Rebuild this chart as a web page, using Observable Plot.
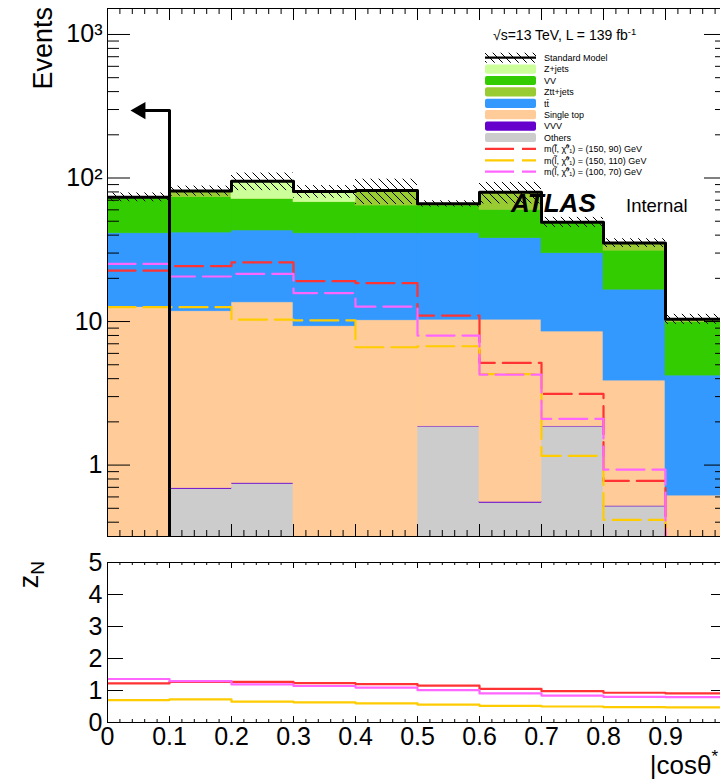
<!DOCTYPE html>
<html><head><meta charset="utf-8">
<script src="https://cdn.jsdelivr.net/npm/d3@7"></script>
<script src="https://cdn.jsdelivr.net/npm/@observablehq/plot@0.6"></script>
<style>
html,body{margin:0;padding:0;overflow:hidden;background:#fff;width:720px;height:782px;}
#wrap{position:relative;width:720px;height:782px;overflow:hidden;}
#main{position:absolute;left:0;top:0;width:740px;}
#ratio{position:absolute;left:0;top:545px;width:740px;}
#wrap svg{max-width:none !important;display:block;}
</style></head>
<body><div id="wrap"><div id="main"></div><div id="ratio"></div></div>
<script>
// ---------------- data ----------------
const binEdges  = [0, 0.1, 0.2, 0.3, 0.4, 0.5, 0.6, 0.7, 0.8, 0.9, 1.0];
const others    = [0, 0.68, 0.74, 0, 0, 1.85, 0.545, 1.85, 0.514, 0];
const vvv       = [0, 0.01, 0.01, 0, 0, 0.01, 0.01, 0.01, 0.005, 0];
const singleTop = [12.6, 11.1, 12.85, 9.27, 10.2, 8.44, 9.75, 6.66, 3.36, 0.613];
const ttbar     = [28.6, 29.9, 29.5, 31.9, 31.0, 30.9, 27.8, 21.4, 12.8, 3.59];
const vv        = [31.0, 31.8, 28.1, 26.6, 23.1, 23.1, 21.9, 18.5, 14.5, 5.69];
const zttJets   = [0.8, 7.5, 0.5, 0.3, 17.5, 1.0, 19.6, 0.5, 4.1, 0.3];
const zJets     = [0.5, 0.3, 23.3, 12.4, 0, 0.8, 0, 0.3, 0, 0.2];
const smRelUnc  = [0.07, 0.08, 0.14, 0.10, 0.20, 0.05, 0.17, 0.08, 0.07, 0.08];

const sig150_90  = [22.6, 24.3, 25.8, 19.1, 18.5, 11.0, 5.15, 3.13, 0.776, 0.2];
const sig150_110 = [12.6, 12.6, 10.3, 10.2, 6.62, 6.73, 4.3, 1.16, 0.415, 0.2];
const sig100_70  = [25.2, 20.6, 21.5, 15.8, 12.7, 7.99, 4.27, 2.10, 0.93, 0.2];

const zn150_90  = [1.22, 1.27, 1.27, 1.23, 1.20, 1.15, 1.05, 0.98, 0.93, 0.91];
const zn150_110 = [0.70, 0.72, 0.65, 0.63, 0.60, 0.56, 0.52, 0.50, 0.48, 0.47];
const zn100_70  = [1.36, 1.29, 1.19, 1.14, 1.09, 1.01, 0.91, 0.84, 0.80, 0.79];

const arrowCut = 0.1, arrowTop = 295, arrowTipX = 0.037;

const mainYTicks  = [1, 10, 100, 1000];
const mainYLabels = ["1", "10", "10\u00B2", "10\u00B3"];
const ratioYTicks = [0, 1, 2, 3, 4, 5];
const xTicks      = [0, 0.1, 0.2, 0.3, 0.4, 0.5, 0.6, 0.7, 0.8, 0.9, 1];
const xTickLabels = ["0", "0.1", "0.2", "0.3", "0.4", "0.5", "0.6", "0.7", "0.8", "0.9", ""];

const stackNames  = ["Others", "VVV", "Single top", "tt\u0304", "VV", "Ztt+jets", "Z+jets"];
const stackColors = ["#cccccc", "#6600cc", "#ffcc99", "#3399ff", "#33cc00", "#99cc33", "#ccff99"];
const sigLabels   = ["m(l\u0303, \u03C7\u0303\u2070\u2081) = (150, 90) GeV",
                     "m(l\u0303, \u03C7\u0303\u2070\u2081) = (150, 110) GeV",
                     "m(l\u0303, \u03C7\u0303\u2070\u2081) = (100, 70) GeV"];
const sigColors   = ["#ff3333", "#ffcc00", "#ff66ff"];

// ---------------- geometry / style ----------------
const FONT = "'Liberation Sans', Arial, Helvetica, sans-serif";
const W = 740, mL = 107, mR = 13;
const plotW = W - mL - mR;
const H1 = 545, mT1 = 8, mB1 = 9;
const H2 = 237, mT2 = 17, mB2 = 60;
const yMainDomain = [0.318, 1517];
const FLOOR = 1e-3;

// ---------------- derived tables ----------------
const stack = [others, vvv, singleTop, ttbar, vv, zttJets, zJets];
const layers = stack.map(() => []);
const total = [];
for (let i = 0; i < binEdges.length - 1; i++) {
  let c = 0;
  stack.forEach((s, k) => {
    const lo = c; c += s[i];
    if (s[i] > 0) layers[k].push({x1: binEdges[i], x2: binEdges[i + 1], y1: Math.max(lo, FLOOR), y2: c});
  });
  total.push(c);
}
const uncRects = total.map((t, i) => ({x1: binEdges[i], x2: binEdges[i + 1], y1: t * (1 - smRelUnc[i]), y2: t * (1 + smRelUnc[i])}));
function steps(vals) {
  const pts = [];
  vals.forEach((v, i) => { pts.push({x: binEdges[i], y: v}); pts.push({x: binEdges[i + 1], y: v}); });
  return pts;
}
const minorY = [];
for (let e = -1; e <= 3; e++) for (let k = 2; k <= 9; k++) {
  const v = k * Math.pow(10, e);
  if (v > yMainDomain[0] && v < yMainDomain[1]) minorY.push(v);
}
const minorX = d3.range(0, 51).map(i => i / 50).filter(v => Math.round(v * 50) % 5 !== 0);
const yLabelMap = new Map(mainYTicks.map((t, i) => [t, mainYLabels[i]]));
const xLabelMap = new Map(xTicks.map((t, i) => [t, xTickLabels[i]]));

function yTicks(vals, len) {
  return [Plot.tickY(vals, {y: d => d, insetRight: plotW - len, stroke: "black", strokeWidth: 1}),
          Plot.tickY(vals, {y: d => d, insetLeft: plotW - len, stroke: "black", strokeWidth: 1})];
}
function xTicksMarks(vals, lenBottom, lenTop, plotH) {
  return [Plot.tickX(vals, {x: d => d, insetTop: plotH - lenBottom, stroke: "black", strokeWidth: 1}),
          Plot.tickX(vals, {x: d => d, insetBottom: plotH - lenTop, stroke: "black", strokeWidth: 1})];
}

// ---------------- main panel ----------------
const plotH1 = H1 - mT1 - mB1;
const sigMarks = [sig150_90, sig150_110, sig100_70].map((s, i) =>
  Plot.line(steps(s), {x: "x", y: "y", stroke: sigColors[i], strokeWidth: 2.2, strokeDasharray: "28,8", clip: true}));

const arrowPx = 10;
const arrowHeadX = arrowTipX + arrowPx / plotW;

const mainSvg = Plot.plot({
  width: W, height: H1,
  marginLeft: mL, marginRight: mR, marginTop: mT1, marginBottom: mB1,
  style: {fontFamily: FONT, fontSize: "25px", background: "transparent", color: "black", maxWidth: "none"},
  x: {domain: [0, 1], axis: null},
  y: {type: "log", domain: yMainDomain, label: null},
  marks: [
    ...layers.map((L, k) => Plot.rect(L, {x1: "x1", x2: "x2", y1: "y1", y2: "y2", fill: stackColors[k], stroke: stackColors[k], strokeWidth: 0.6, clip: true})),
    ...sigMarks,
    Plot.rect(uncRects, {x1: "x1", x2: "x2", y1: "y1", y2: "y2", fill: "url(#smHatch)", clip: true}),
    Plot.line(steps(total), {x: "x", y: "y", stroke: "black", strokeWidth: 3, clip: true}),
    Plot.line([{x: arrowCut, y: yMainDomain[0]}, {x: arrowCut, y: arrowTop}, {x: arrowHeadX, y: arrowTop}],
              {x: "x", y: "y", stroke: "black", strokeWidth: 3, clip: true}),
    Plot.dot([{x: arrowHeadX, y: arrowTop}], {x: "x", y: "y", symbol: "triangle", rotate: -90, r: 6.4, fill: "black", stroke: "none"}),
    Plot.frame({stroke: "black", strokeWidth: 1}),
    ...yTicks(mainYTicks, 23),
    ...yTicks(minorY, 12),
    ...xTicksMarks(xTicks, 12, 12, plotH1),
    ...xTicksMarks(minorX, 6, 6, plotH1),
    Plot.axisY(mainYTicks, {tickSize: 0, tickPadding: 5, tickFormat: d => yLabelMap.get(d), label: null, fontSize: 25})
  ]
});

const defs = d3.select(mainSvg).insert("defs", ":first-child");
const pat = defs.append("pattern").attr("id", "smHatch").attr("patternUnits", "userSpaceOnUse")
  .attr("width", 8).attr("height", 8);
pat.append("path").attr("d", "M0,0L8,8M-2,6L2,10M6,-2L10,2").attr("stroke", "black").attr("stroke-width", 1).attr("fill", "none");

const ms = d3.select(mainSvg);
function txt(sel, x, y, size, anchor) {
  return sel.append("text").attr("x", x).attr("y", y).attr("font-size", size).attr("font-family", FONT)
    .attr("fill", "black").attr("text-anchor", anchor || "start");
}
ms.append("text").attr("transform", "translate(52,7) rotate(-90)").attr("text-anchor", "end")
  .attr("font-size", 27).attr("font-family", FONT).attr("fill", "black").text("Events");
const lumi = txt(ms, 493, 40, 14);
lumi.append("tspan").text("\u221As=13 TeV, L = 139 fb");
lumi.append("tspan").attr("dy", -5).attr("font-size", 9.5).text("-1");
txt(ms, 511, 212, 26).attr("font-weight", "bold").attr("font-style", "italic").text("ATLAS");
txt(ms, 626, 212, 18.5).text("Internal");

const lg = ms.append("g");
const rowY = i => 57.7 + i * 11.4;
const boxX = 485, boxW = 51, textX = 544;
lg.append("rect").attr("x", boxX).attr("y", rowY(0) - 5).attr("width", boxW).attr("height", 10).attr("fill", "url(#smHatch)");
lg.append("line").attr("x1", boxX).attr("x2", boxX + boxW).attr("y1", rowY(0)).attr("y2", rowY(0)).attr("stroke", "black").attr("stroke-width", 2.2);
const legendItems = [["Standard Model", null]];
[6, 4, 5, 3, 2, 1, 0].forEach(k => legendItems.push([stackNames[k], stackColors[k]]));
legendItems.forEach(([name, col], i) => {
  if (col) lg.append("rect").attr("x", boxX).attr("y", rowY(i) - 4.6).attr("width", boxW).attr("height", 9.2)
    .attr("rx", 2).attr("fill", col);
  txt(lg, textX, rowY(i) + 3.3, 9).text(name);
});
sigLabels.forEach((lab, j) => {
  const i = legendItems.length + j;
  lg.append("line").attr("x1", boxX).attr("x2", boxX + boxW).attr("y1", rowY(i)).attr("y2", rowY(i))
    .attr("stroke", sigColors[j]).attr("stroke-width", 2.2).attr("stroke-dasharray", "29,8");
  txt(lg, textX, rowY(i) + 3.3, 9).text(lab);
});
document.getElementById("main").appendChild(mainSvg);

// ---------------- ratio panel ----------------
const plotH2 = H2 - mT2 - mB2;
const ratioSvg = Plot.plot({
  width: W, height: H2,
  marginLeft: mL, marginRight: mR, marginTop: mT2, marginBottom: mB2,
  style: {fontFamily: FONT, fontSize: "25px", background: "transparent", color: "black", maxWidth: "none"},
  x: {domain: [0, 1], label: null},
  y: {domain: [0, 5], label: null},
  marks: [
    Plot.line(steps(zn150_110), {x: "x", y: "y", stroke: sigColors[1], strokeWidth: 2.2, clip: true}),
    Plot.line(steps(zn150_90), {x: "x", y: "y", stroke: sigColors[0], strokeWidth: 2.2, clip: true}),
    Plot.line(steps(zn100_70), {x: "x", y: "y", stroke: sigColors[2], strokeWidth: 2.2, clip: true}),
    Plot.frame({stroke: "black", strokeWidth: 1}),
    ...yTicks(ratioYTicks, 16),
    ...xTicksMarks(xTicks, 6, 6, plotH2),
    ...xTicksMarks(minorX, 3, 3, plotH2),
    Plot.axisY(ratioYTicks, {tickSize: 0, tickPadding: 5, tickFormat: d => String(d), label: null, fontSize: 25}),
    Plot.axisX(xTicks.slice(0, -1), {tickSize: 0, tickPadding: 5, tickFormat: d => xLabelMap.get(d), label: null, fontSize: 25})
  ]
});
const rs = d3.select(ratioSvg);
const zt = rs.append("text").attr("transform", "translate(38,16) rotate(-90)").attr("text-anchor", "end")
  .attr("font-size", 27).attr("font-family", FONT).attr("fill", "black");
zt.append("tspan").text("z");
zt.append("tspan").attr("dy", 6).attr("font-size", 19).text("N");
const xt = rs.append("text").attr("x", 718).attr("y", 229).attr("text-anchor", "end")
  .attr("font-size", 26).attr("font-family", FONT).attr("fill", "black");
xt.append("tspan").text("|cos\u03B8");
xt.append("tspan").attr("dy", -12).attr("font-size", 17).text("*");
document.getElementById("ratio").appendChild(ratioSvg);
</script>
</body></html>
